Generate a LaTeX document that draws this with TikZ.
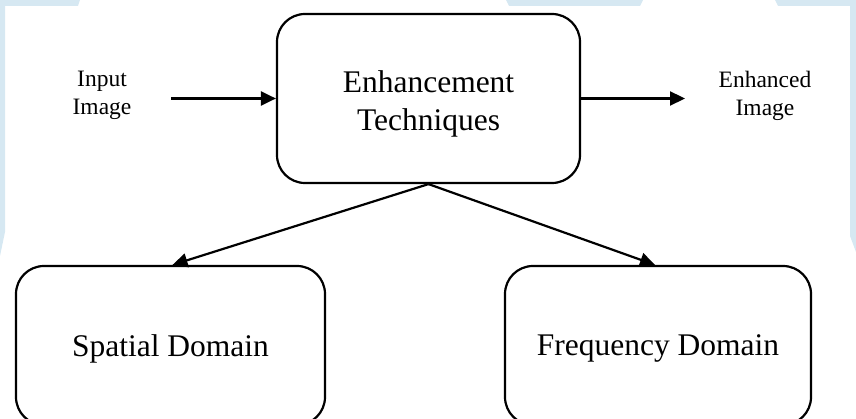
\documentclass[tikz,border=0pt]{standalone}
\usepackage{fontspec}
\setmainfont{Liberation Serif}
\usetikzlibrary{arrows.meta}
\definecolor{wmblue}{RGB}{214,232,242}
\begin{document}
\begin{tikzpicture}[x=1pt,y=-1pt,
  box/.style={draw=black,line width=2.2pt,rounded corners=28pt,inner sep=0pt},
  bigtxt/.style={inner sep=0pt,font=\fontsize{31.5}{38}\selectfont,align=center},
  lbl/.style={inner sep=0pt,font=\fontsize{23.5}{28.2}\selectfont,align=center},
  arr/.style={line width=2.2pt,-{Triangle[length=15pt,width=14pt]}}]
\useasboundingbox (0,0) rectangle (856,419);
% background bands
\fill[wmblue] (0,0) -- (80,0) -- (78,6) -- (5,6) -- (5,232) -- (0,256) -- cycle;
\fill[wmblue] (506,0) -- (643,0) -- (640,6) -- (509,6) -- cycle;
\fill[wmblue] (775,0) -- (856,0) -- (856,252) -- (850,236) -- (850,6) -- (778,6) -- cycle;
% boxes
\node[box,minimum width=303pt,minimum height=169pt] (main) at (428.5,98.5) {};
\node[box,minimum width=309pt,minimum height=159pt] (spatial) at (170.5,345.5) {};
\node[box,minimum width=306pt,minimum height=159pt] (freq) at (658,345.5) {};
% texts
\node[bigtxt] (maintxt) at ([yshift=-5pt]main.center) {Enhancement\\Techniques};
\node[bigtxt] (spatialtxt) at ([yshift=-3pt]spatial.center) {Spatial Domain};
\node[bigtxt] (freqtxt) at ([yshift=-3pt]freq.center) {Frequency Domain};
\node[lbl] (inp) at (102,95.5) {Input\\Image};
\node[lbl] (outp) at (765,95.5) {Enhanced\\Image};
\coordinate (inL) at (171,98.5);
\coordinate (outR) at (685,98.5);
% connectors
\draw[arr] (inL) -- (main.west);
\draw[arr] (main.east) -- (outR);
\draw[arr] (main.south) -- ([xshift=2pt]spatial.north);
\draw[arr] (main.south) -- ([xshift=-3pt]freq.north);
\end{tikzpicture}
\end{document}
